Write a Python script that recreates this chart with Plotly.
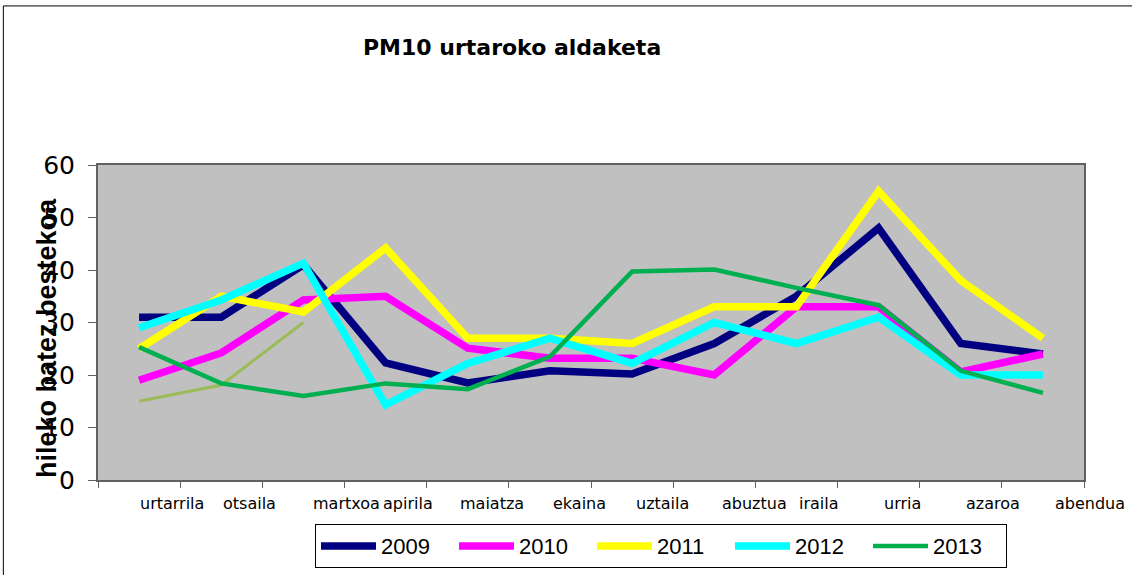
import plotly.graph_objects as go

months = ["urtarrila", "otsaila", "martxoa", "apirila", "maiatza", "ekaina",
          "uztaila", "abuztua", "iraila", "urria", "azaroa", "abendua"]

pm_2009 = [31, 31, 41, 22.3, 18.5, 20.8, 20.2, 26, 35, 48, 26, 24]
pm_2010 = [19, 24.2, 34.3, 35, 25.1, 23.2, 23.2, 20, 33, 33, 20.6, 24]
pm_2011 = [25, 35, 32, 44.2, 27, 27, 26, 33, 33, 55, 38, 27]
pm_2012 = [29, 34.3, 41.3, 14.3, 22.2, 27, 22.2, 30, 26, 31, 20, 20]
pm_2013 = [25.3, 18.4, 16, 18.4, 17.3, 23.5, 39.7, 40.1, 36.6, 33.3, 20.8, 16.6]
pm_extra = [15, 18.1, 30, None, None, None, None, None, None, None, None, None]

# month labels sit right of their points in the original (pixel shift)
label_shift = [33, 28, 43, 22, 24, 30, 30, 40, 23, 24, 32, 47]

x = list(range(len(months)))

fig = go.Figure()

# thin olive line, not in the legend
fig.add_trace(go.Scatter(x=x, y=pm_extra, mode="lines", showlegend=False,
                         line=dict(color="#9BBB59", width=3), hoverinfo="skip"))

series = [
    ("2009", pm_2009, "#000080", 7.5),
    ("2010", pm_2010, "#FF00FF", 7.5),
    ("2011", pm_2011, "#FFFF00", 7.5),
    ("2012", pm_2012, "#00FFFF", 7.5),
    ("2013", pm_2013, "#00B050", 4.5),
]
for name, vals, col, w in series:
    fig.add_trace(go.Scatter(x=x, y=vals, mode="lines", name=name,
                             line=dict(color=col, width=w)))

fig.update_layout(
    width=1132, height=575,
    margin=dict(l=98, r=48, t=165, b=95, autoexpand=False),
    paper_bgcolor="white",
    plot_bgcolor="#C0C0C0",
    font=dict(family="Liberation Sans, Arial", color="black"),
    title=dict(text="<b>PM10 urtaroko aldaketa</b>", x=0.42, xref="paper",
               xanchor="center", y=0.918, yanchor="middle",
               font=dict(size=22, family="DejaVu Sans")),
    showlegend=True,
    legend=dict(orientation="h", x=0.571, xanchor="center", y=-0.14, yanchor="top",
                bordercolor="black", borderwidth=1, bgcolor="white",
                font=dict(size=22), entrywidth=68, entrywidthmode="pixels",
                itemwidth=55),
)

fig.update_xaxes(
    range=[-0.5, 11.5], showgrid=False, zeroline=False, automargin=False,
    tick0=-0.5, dtick=1, ticks="outside", ticklen=6, tickcolor="#606060",
    showticklabels=False,
    showline=True, linecolor="#606060", linewidth=2, mirror=True,
)
fig.update_yaxes(
    range=[0, 60], dtick=10, showgrid=False, zeroline=False, automargin=False,
    ticks="outside", ticklen=8, tickcolor="#606060",
    tickfont=dict(size=25, family="DejaVu Sans"), ticklabelstandoff=8,
    showline=True, linecolor="#606060", linewidth=2, mirror=True,
)

# month labels as annotations so they can sit off-centre like the original
for i, m in enumerate(months):
    fig.add_annotation(text=m, x=x[i], xref="x", y=0, yref="paper",
                       xanchor="center", yanchor="middle",
                       xshift=label_shift[i], yshift=-23,
                       showarrow=False, font=dict(size=16, family="DejaVu Sans"))

# y title overlaps the tick labels in the original, so it is an annotation
fig.add_annotation(text="<b>hileko batez bestekoa</b>", textangle=-90,
                   xref="paper", yref="paper", x=-0.051, y=0.45,
                   xanchor="center", yanchor="middle", showarrow=False,
                   font=dict(size=27))

# outer chart frame (only top and left visible)
fig.add_shape(type="rect", xref="paper", yref="paper",
              x0=-0.096, x1=1.2, y0=-0.5, y1=1.505,
              line=dict(color="black", width=1), layer="below")

fig.write_html("out.html", config={"displayModeBar": False},
               post_script="document.body.style.margin='0';")
